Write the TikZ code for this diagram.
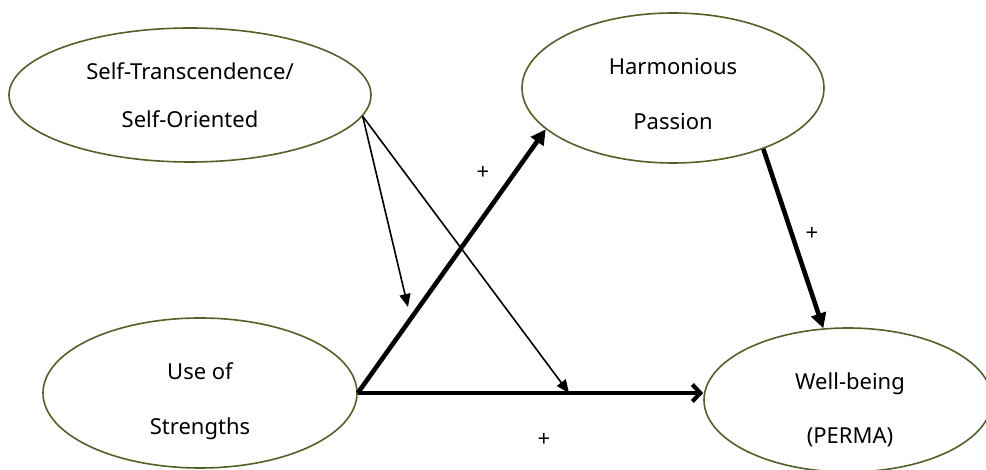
\documentclass[tikz,border=0pt]{standalone}
\usepackage{fontspec}
\setmainfont{Noto Sans}
\usetikzlibrary{shapes.geometric,arrows.meta}
\definecolor{olivegreen}{HTML}{4F6228}
\begin{document}
\begin{tikzpicture}[x=1pt,y=-1pt,
  ell/.style={draw=olivegreen, line width=1.6pt, ellipse, inner sep=0pt},
  lbl/.style={font=\fontsize{22}{26}\selectfont, anchor=base, inner sep=0pt},
  plussign/.style={font=\fontsize{22}{22}\selectfont\addfontfeatures{FakeBold=0}, inner sep=0pt},
  thinarrow/.style={draw, line width=1.6pt, -{Triangle[length=13pt,width=11pt]}},
  thickarrow/.style={draw, line width=4.6pt, -{Triangle[length=15pt,width=15pt]}},
  barbarrow/.style={draw, line width=4.6pt, -{Straight Barb[length=8pt,width=17pt,line width=4.2pt]}}
]
\useasboundingbox (0,0) rectangle (986,470);
\fill[white] (0,0) rectangle (986,470);

\node[ell, minimum width=362pt, minimum height=134pt] (e1) at (190,95) {};
\node[ell, minimum width=302pt, minimum height=150pt] (e2) at (673,88) {};
\node[ell, minimum width=314pt, minimum height=150pt] (e3) at (200,393) {};
\node[ell, minimum width=288pt, minimum height=144pt] (e4) at (848,400) {};

\node[lbl] (t1a) at (190,80) {Self-Transcendence/};
\node[lbl] (t1b) at (190,128) {Self-Oriented};
\node[lbl] (t2a) at (673,75) {Harmonious};
\node[lbl] (t2b) at (673,130) {Passion};
\node[lbl] (t3a) at (200,380) {Use of};
\node[lbl] (t3b) at (200,435) {Strengths};
\node[lbl] (t4a) at (850,390) {Well-being};
\node[lbl] (t4b) at (850,443) {(PERMA)};

\coordinate (c1) at (408,307);
\coordinate (c2) at (569,393);

\draw[thickarrow] (e3.east) -- (e2.198);
\draw[barbarrow] (e3.east) -- (e3.east -| e4.west);
\draw[thickarrow] (e2.-34) -- (e4.109);
\draw[thinarrow] (e1.-7) -- (c1);
\draw[thinarrow] (e1.-7) -- (c2);

\node[plussign] (p1) at (483,173) {+};
\node[plussign] (p2) at (812,234) {+};
\node[plussign] (p3) at (544,440) {+};
\end{tikzpicture}
\end{document}
